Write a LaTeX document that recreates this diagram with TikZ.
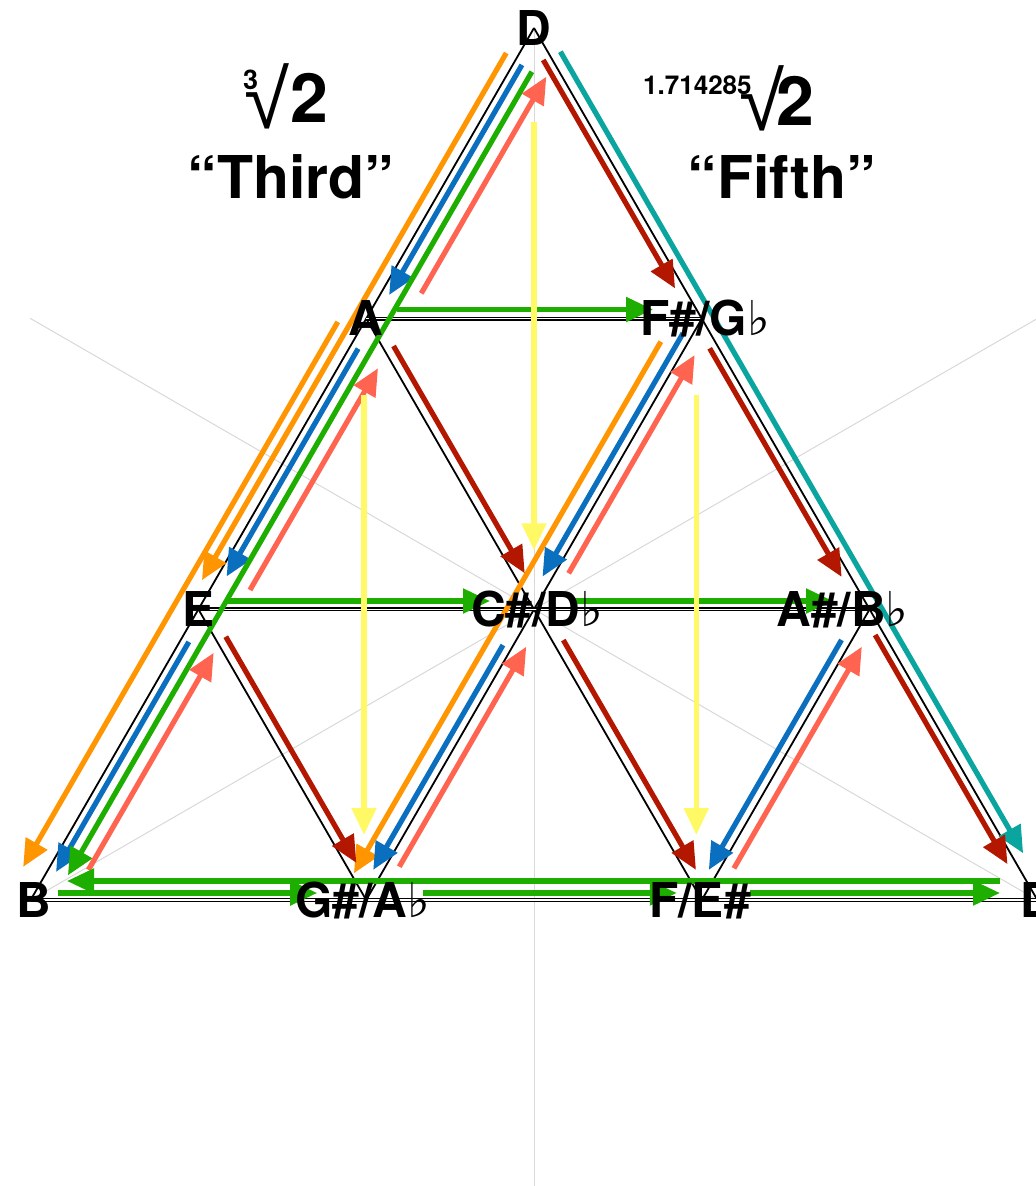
\documentclass[tikz,border=0pt]{standalone}
\usepackage{fontspec}
\setmainfont{TeX Gyre Heros}
\newfontfamily\dejavu{DejaVu Sans}
\newfontfamily\libsans{Liberation Sans}
\usetikzlibrary{arrows.meta}
\definecolor{cOr}{HTML}{FF9500}
\definecolor{cBl}{HTML}{0B6FBF}
\definecolor{cGr}{HTML}{1DAE00}
\definecolor{cSa}{HTML}{FF6450}
\definecolor{cDr}{HTML}{B41700}
\definecolor{cTe}{HTML}{0BA5A0}
\definecolor{cYe}{HTML}{FFF966}
\definecolor{cGuide}{HTML}{D9D9D9}
\tikzset{
  arr/.style={line width=5.2pt, -{Triangle[length=27pt,width=24pt]}},
  lat/.style={draw=black, line width=1.8pt},
  lath/.style={draw=black, line width=1.2pt, double=white, double distance=1.5pt},
  guide/.style={draw=cGuide, line width=1pt},
  lbl/.style={font=\fontsize{48}{48}\selectfont\bfseries, inner sep=0pt, anchor=base},
}
\newcommand\flt{{\dejavu\mdseries ♭}}
% style, from, to, shorten start, shorten end, canvas xshift, canvas yshift
\newcommand\myarr[7]{\draw[arr,#1,shorten <=#4pt,shorten >=#5pt] ([xshift=#6pt,yshift=#7pt]#2) -- ([xshift=#6pt,yshift=#7pt]#3);}
\begin{document}
\begin{tikzpicture}[x=1pt,y=-1pt]
\useasboundingbox (0,0) rectangle (1036,1186);
\clip (0,0) rectangle (1036,1186);
\fill[white] (0,0) rectangle (1036,1186);
% lattice vertices
\coordinate (T) at (534,28);
\coordinate (A) at (366.2,318.7);
\coordinate (Fs) at (701.8,318.7);
\coordinate (E) at (198.4,609.3);
\coordinate (Cs) at (534,609.3);
\coordinate (As) at (869.6,609.3);
\coordinate (B) at (30.6,900);
\coordinate (Gs) at (366.2,900);
\coordinate (F) at (701.8,900);
\coordinate (D) at (1037.4,900);
\coordinate (gl) at (30,318.2);
\coordinate (gr) at (1040,317);
\coordinate (gb) at (534,1186);
% guide lines
\draw[guide] (T) -- (gb);
\draw[guide] (gl) -- (D);
\draw[guide] (gr) -- (B);
% lattice
\draw[lat] (T) -- (B);
\draw[lat] (T) -- (D);
\draw[lat] (A) -- (F);
\draw[lat] (E) -- (Gs);
\draw[lat] (Fs) -- (Gs);
\draw[lat] (As) -- (F);
\draw[lath] (A) -- (Fs);
\draw[lath] (E) -- (As);
\draw[lath] (B) -- (D);
% left edge arrows
\myarr{cOr}{T}{E}{35.5}{27}{-9.96}{5.75}
\myarr{cOr}{A}{B}{17}{25}{-19.92}{11.5}
\myarr{cBl}{T}{A}{38}{32}{6.93}{-4}
\myarr{cBl}{A}{E}{30}{42.5}{6.93}{-4}
\myarr{cBl}{E}{B}{33}{37}{6.93}{-4}
\myarr{cGr}{T}{B}{39}{40}{17.32}{-10}
\myarr{cSa}{A}{T}{49.5}{36}{30.31}{-17.5}
\myarr{cSa}{E}{A}{42.5}{37}{30.31}{-17.5}
\myarr{cSa}{B}{E}{55}{30}{30.31}{-17.5}
% interior down-left arrows
\myarr{cOr}{Fs}{Gs}{40.4}{17}{-20.78}{12}
\myarr{cBl}{Fs}{Cs}{22}{32.6}{-7.79}{4.5}
\myarr{cBl}{Cs}{Gs}{46.5}{29.6}{-7.79}{4.5}
\myarr{cBl}{As}{F}{40.6}{29.6}{-7.79}{4.5}
\myarr{cSa}{Cs}{Fs}{48.5}{35}{10.39}{-6}
\myarr{cSa}{Gs}{Cs}{45.4}{36.3}{10.39}{-6}
\myarr{cSa}{F}{As}{43.5}{36.3}{10.39}{-6}
% right edge arrows
\myarr{cTe}{T}{D}{33.7}{47.6}{9.53}{5.5}
\myarr{cDr}{T}{Fs}{32.3}{39.6}{-6.93}{-4}
\myarr{cDr}{Fs}{As}{29.6}{42}{-6.93}{-4}
\myarr{cDr}{As}{D}{25}{46}{-6.93}{-4}
% interior down-right arrows
\myarr{cDr}{A}{Cs}{37.3}{35.8}{8.66}{5}
\myarr{cDr}{Cs}{F}{41.3}{29}{8.66}{5}
\myarr{cDr}{E}{Gs}{37.4}{37}{8.66}{5}
% horizontal arrows
\myarr{cGr}{A}{Fs}{30.5}{48.8}{0}{9.2}
\myarr{cGr}{E}{Cs}{28.3}{44}{0}{8.3}
\myarr{cGr}{Cs}{As}{39}{36.6}{0}{8.3}
\myarr{cGr}{D}{B}{37.4}{36.4}{0}{19}
\myarr{cGr}{B}{Gs}{27.4}{49}{0}{7}
\myarr{cGr}{Gs}{F}{57}{25}{0}{7}
\myarr{cGr}{F}{D}{48}{37.4}{0}{7}
% yellow verticals
\myarr{cYe}{T}{Cs}{94}{59}{0}{0}
\myarr{cYe}{A}{Gs}{76.3}{65}{-2.2}{0}
\myarr{cYe}{Fs}{F}{76.3}{65}{-5.5}{0}
% vertex labels
\node[lbl] (lD) at (534,45) {D};
\node[lbl] (lA) at (366.2,335.7) {A};
\node[lbl] (lFs) at (705,335.7) {F\#/G\flt};
\node[lbl] (lE) at (199,626.3) {E};
\node[lbl] (lCs) at (537,626.3) {C\#/D\flt};
\node[lbl] (lAs) at (842.5,626.3) {A\#/B\flt};
\node[lbl] (lB) at (34,917) {B};
\node[lbl] (lGs) at (362.5,917) {G\#/A\flt};
\node[lbl] (lF) at (700,917) {F/E\#};
\node[lbl] (lD2) at (1038,917) {D};
% titles
\node[anchor=base west, font=\fontsize{27}{27}\selectfont\bfseries, inner sep=0pt] (t3) at (243,89) {3};
\node[anchor=base west, font=\libsans\fontsize{82}{82}\selectfont, inner sep=0pt] (tr) at (244,128) {√};
\node[anchor=base west, font=\fontsize{68}{68}\selectfont\bfseries, inner sep=0pt] (t2) at (290,122) {2};
\node[anchor=base, font=\fontsize{59}{59}\selectfont\bfseries, inner sep=0pt] (tt) at (290.8,198) {“Third”};
\node[anchor=base west, font=\fontsize{26}{26}\selectfont\bfseries, inner sep=0pt] (f1) at (643,94) {1.714285};
\node[anchor=base west, font=\libsans\fontsize{82}{82}\selectfont, inner sep=0pt] (fr) at (739,130) {√};
\node[anchor=base west, font=\fontsize{68}{68}\selectfont\bfseries, inner sep=0pt] (f2) at (776,125) {2};
\node[anchor=base, font=\fontsize{59}{59}\selectfont\bfseries, inner sep=0pt] (tf) at (781.7,198) {“Fifth”};
\end{tikzpicture}
\end{document}
